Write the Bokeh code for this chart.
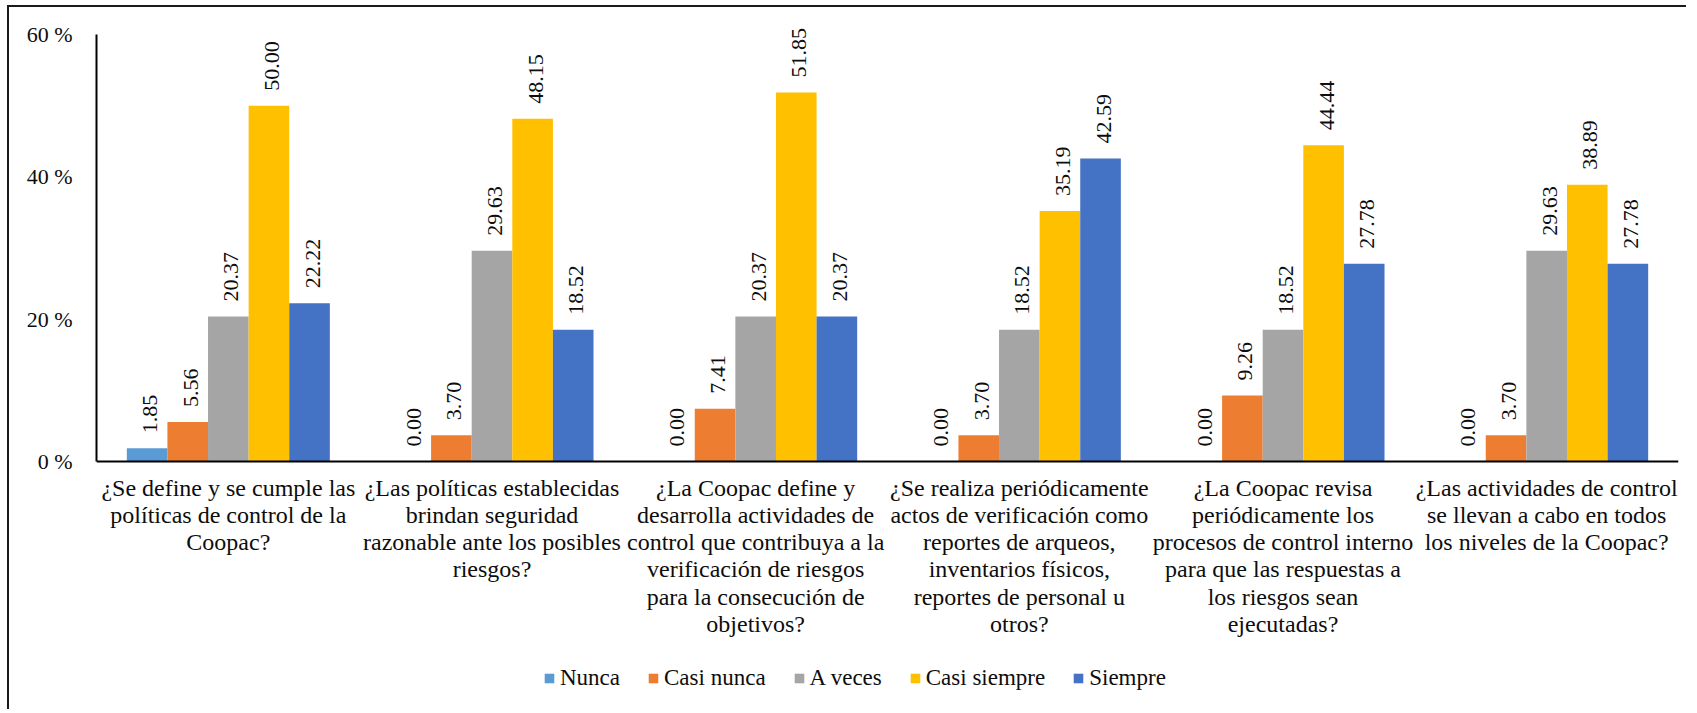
import math
from bokeh.plotting import figure
from bokeh.models import FactorRange, Range1d, FixedTicker, Legend, LegendItem, ColumnDataSource, Span
from bokeh.transform import dodge
from bokeh.core.properties import value
from bokeh.embed import file_html
from bokeh.resources import INLINE

categories = [
    "¿Se define y se cumple las\npolíticas de control de la\nCoopac?",
    "¿Las políticas establecidas\nbrindan seguridad\nrazonable ante los posibles\nriesgos?",
    "¿La Coopac define y\ndesarrolla actividades de\ncontrol que contribuya a la\nverificación de riesgos\npara la consecución de\nobjetivos?",
    "¿Se realiza periódicamente\nactos de verificación como\nreportes de arqueos,\ninventarios físicos,\nreportes de personal u\notros?",
    "¿La Coopac revisa\nperiódicamente los\nprocesos de control interno\npara que las respuestas a\nlos riesgos sean\nejecutadas?",
    "¿Las actividades de control\nse llevan a cabo en todos\nlos niveles de la Coopac?",
]
series = ["Nunca", "Casi nunca", "A veces", "Casi siempre", "Siempre"]
nunca = [1.85, 0.00, 0.00, 0.00, 0.00, 0.00]
casi_nunca = [5.56, 3.70, 7.41, 3.70, 9.26, 3.70]
a_veces = [20.37, 29.63, 20.37, 18.52, 18.52, 29.63]
casi_siempre = [50.00, 48.15, 51.85, 35.19, 44.44, 38.89]
siempre = [22.22, 18.52, 20.37, 42.59, 27.78, 27.78]
colors = ["#5B9BD5", "#ED7D31", "#A5A5A5", "#FFC000", "#4472C4"]
y_ticks = [0, 20, 40, 60]
y_tick_labels = ["0 %", "20 %", "40 %", "60 %"]

FONT = "Liberation Serif"
TXT = "#0d0d0d"

# layout (canvas pixels)
W, H = 1679, 704
FRAME_TOP, FRAME_BOTTOM, ZERO_Y, PX_PER_UNIT = 6, 694, 454, 427 / 60
y_start = -(FRAME_BOTTOM - ZERO_Y) / PX_PER_UNIT
y_end = (ZERO_Y - FRAME_TOP) / PX_PER_UNIT

p = figure(
    x_range=FactorRange(*categories, range_padding=0, factor_padding=0),
    y_range=Range1d(y_start, y_end),
    width=W, height=H,
    output_backend="svg", toolbar_location=None,
    min_border_left=87, min_border_right=10, min_border_top=FRAME_TOP,
    min_border_bottom=H - FRAME_BOTTOM,
)
p.margin = (5, 0, 0, 7)
p.styles = {"border-left": "2px solid #1a1a1a", "border-top": "2px solid #1a1a1a"}
p.outline_line_color = None
p.xgrid.visible = False
p.ygrid.visible = False
p.xaxis.visible = False
p.background_fill_color = "white"
p.border_fill_color = "white"

bar_w = 0.154
values = [nunca, casi_nunca, a_veces, casi_siempre, siempre]
items = []
for i, (name, vals, col) in enumerate(zip(series, values, colors)):
    off = (i - 2) * bar_w
    src = ColumnDataSource(dict(cat=categories, val=vals, lab=[f"{v:.2f}" for v in vals]))
    r = p.vbar(x=dodge("cat", off, range=p.x_range), top="val", width=bar_w,
               fill_color=col, line_color=None, source=src)
    p.text(x=dodge("cat", off, range=p.x_range), y="val", text="lab", source=src,
           angle=math.pi / 2, text_align="left", text_baseline="middle",
           x_offset=3, y_offset=-15,
           text_font=value(FONT), text_font_size="22px", text_color=TXT)
    items.append(LegendItem(label=name, renderers=[r]))

# category axis: baseline at 0 and category labels below it
p.add_layout(Span(location=0, dimension="width", line_color="#000000", line_width=2))
cat_src = ColumnDataSource(dict(cat=categories, zero=[0] * len(categories)))
p.text(x="cat", y="zero", text="cat", source=cat_src,
       text_align="center", text_baseline="top", y_offset=13,
       text_line_height=1.05,
       text_font=value(FONT), text_font_size="24px", text_color=TXT)

legend = Legend(items=items, orientation="horizontal", location=(447, 10),
                label_text_font=FONT, label_text_font_size="23px", label_text_color=TXT,
                glyph_width=12, glyph_height=12, label_standoff=5, spacing=27,
                padding=0, margin=0, border_line_color=None, background_fill_alpha=0)
p.add_layout(legend)

ya = p.yaxis[0]
ya.ticker = FixedTicker(ticks=y_ticks)
ya.major_label_overrides = {t: l for t, l in zip(y_ticks, y_tick_labels)}
ya.bounds = (0, 60)
ya.axis_line_width = 2
ya.axis_line_color = "#000000"
ya.major_tick_line_color = None
ya.minor_tick_line_color = None
ya.major_tick_out = 0
ya.major_tick_in = 0
ya.major_label_standoff = 24
ya.major_label_text_font = FONT
ya.major_label_text_font_size = "22px"
ya.major_label_text_color = TXT

open("out.html", "w").write(file_html(p, INLINE))
